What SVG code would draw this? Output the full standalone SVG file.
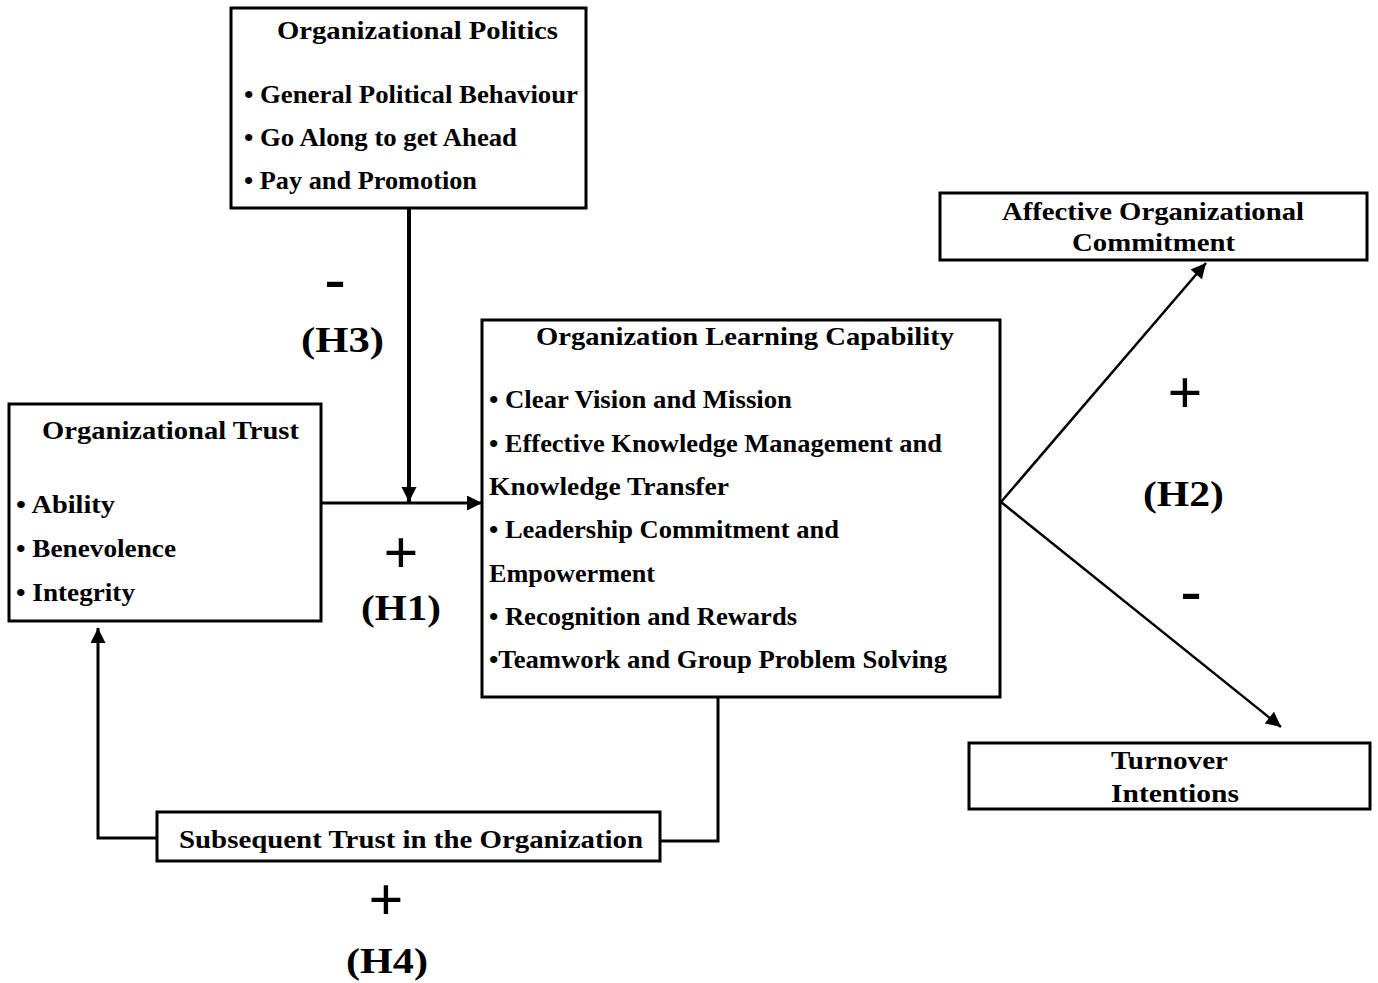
<svg xmlns="http://www.w3.org/2000/svg" width="1378" height="983" viewBox="0 0 1378 983">
<defs>
<style>
text{font-family:"Liberation Serif","Times New Roman",serif;font-weight:bold;fill:#000}
.t{font-size:25px}
.b{font-size:25px}
.h{font-size:35px}
.s{font-size:62px}
.box{fill:#fff;stroke:#000;stroke-width:3}
.c{fill:none;stroke:#000;stroke-width:3}
.v{fill:none;stroke:#000;stroke-width:4}
.d{fill:none;stroke:#000;stroke-width:2.5}
</style>
<marker id="ah" viewBox="0 0 10 10" refX="10" refY="5" markerWidth="5" markerHeight="5" markerUnits="strokeWidth" orient="auto">
<path d="M0,0 L10,5 L0,10 z" fill="#000"/>
</marker>
<marker id="ahv" viewBox="0 0 10 10" refX="10" refY="5" markerWidth="3.8" markerHeight="3.8" markerUnits="strokeWidth" orient="auto">
<path d="M0,0 L10,5 L0,10 z" fill="#000"/>
</marker>
<marker id="ah2" viewBox="0 0 10 10" refX="10" refY="5" markerWidth="7" markerHeight="6" markerUnits="strokeWidth" orient="auto">
<path d="M0,0 L10,5 L0,10 z" fill="#000"/>
</marker>
</defs>
<rect width="1378" height="983" fill="#fff"/>
<g id="connectors">
<line class="v" x1="409" y1="208" x2="409" y2="502" marker-end="url(#ahv)"/>
<line class="c" x1="321" y1="503" x2="482" y2="503" marker-end="url(#ah)"/>
<line class="d" x1="1001" y1="502" x2="1206" y2="263" marker-end="url(#ah2)"/>
<line class="d" x1="1001" y1="502" x2="1281" y2="727" marker-end="url(#ah2)"/>
<polyline class="c" points="718,697 718,841 660,841"/>
<polyline class="c" points="157,838 98,838 98,628" marker-end="url(#ah)"/>
</g>
<g id="politics">
<rect class="box" x="231" y="8" width="355" height="200"/>
<text class="t" x="277" y="39" textLength="281" lengthAdjust="spacingAndGlyphs">Organizational Politics</text>
<text class="b" x="244" y="103" textLength="334" lengthAdjust="spacingAndGlyphs">• General Political  Behaviour</text>
<text class="b" x="244" y="146" textLength="273" lengthAdjust="spacingAndGlyphs">• Go Along to get Ahead</text>
<text class="b" x="244" y="189" textLength="233" lengthAdjust="spacingAndGlyphs">• Pay and Promotion</text>
</g>
<g id="trust">
<rect class="box" x="9" y="404" width="312" height="217"/>
<text class="t" x="42" y="439" textLength="257" lengthAdjust="spacingAndGlyphs">Organizational Trust</text>
<text class="b" x="16" y="513" textLength="99" lengthAdjust="spacingAndGlyphs">• Ability</text>
<text class="b" x="16" y="557" textLength="160" lengthAdjust="spacingAndGlyphs">• Benevolence</text>
<text class="b" x="16" y="601" textLength="119" lengthAdjust="spacingAndGlyphs">• Integrity</text>
</g>
<g id="olc">
<rect class="box" x="482" y="320" width="518" height="377"/>
<text class="t" x="536" y="345" textLength="418" lengthAdjust="spacingAndGlyphs">Organization Learning Capability</text>
<text class="b" x="489" y="408" textLength="303" lengthAdjust="spacingAndGlyphs">• Clear Vision and Mission</text>
<text class="b" x="489" y="452" textLength="453" lengthAdjust="spacingAndGlyphs">• Effective Knowledge Management and</text>
<text class="b" x="489" y="495" textLength="240" lengthAdjust="spacingAndGlyphs">Knowledge  Transfer</text>
<text class="b" x="489" y="538" textLength="350" lengthAdjust="spacingAndGlyphs">• Leadership Commitment and</text>
<text class="b" x="489" y="582" textLength="166" lengthAdjust="spacingAndGlyphs">Empowerment</text>
<text class="b" x="489" y="625" textLength="308" lengthAdjust="spacingAndGlyphs">• Recognition and Rewards</text>
<text class="b" x="489" y="668" textLength="458" lengthAdjust="spacingAndGlyphs">•Teamwork and Group Problem Solving</text>
</g>
<g id="affective">
<rect class="box" x="940" y="193" width="427" height="67"/>
<text class="t" x="1002" y="220" textLength="302" lengthAdjust="spacingAndGlyphs">Affective Organizational</text>
<text class="t" x="1072" y="251" textLength="163" lengthAdjust="spacingAndGlyphs">Commitment</text>
</g>
<g id="turnover">
<rect class="box" x="969" y="743" width="401" height="66"/>
<text class="t" x="1111" y="769" textLength="117" lengthAdjust="spacingAndGlyphs">Turnover</text>
<text class="t" x="1111" y="802" textLength="128" lengthAdjust="spacingAndGlyphs">Intentions</text>
</g>
<g id="subsequent">
<rect class="box" x="157" y="812" width="503" height="49"/>
<text class="t" x="179" y="848" textLength="464" lengthAdjust="spacingAndGlyphs">Subsequent Trust in the Organization</text>
</g>
<g id="labels">
<text class="s" x="335" y="299" text-anchor="middle">-</text>
<text class="h" x="301" y="352" textLength="83" lengthAdjust="spacingAndGlyphs">(H3)</text>
<text class="s" x="401" y="573" text-anchor="middle">+</text>
<text class="h" x="361" y="620" textLength="80" lengthAdjust="spacingAndGlyphs">(H1)</text>
<text class="s" x="1185" y="413" text-anchor="middle">+</text>
<text class="h" x="1143" y="506" textLength="81" lengthAdjust="spacingAndGlyphs">(H2)</text>
<text class="s" x="1191" y="611" text-anchor="middle">-</text>
<text class="s" x="386" y="920" text-anchor="middle">+</text>
<text class="h" x="346" y="973" textLength="82" lengthAdjust="spacingAndGlyphs">(H4)</text>
</g>
</svg>
